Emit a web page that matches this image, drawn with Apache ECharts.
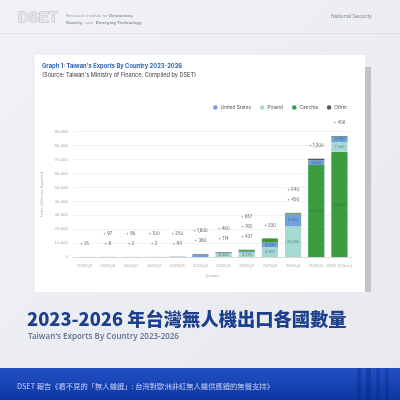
<!DOCTYPE html>
<html><head><meta charset="utf-8">
<script src="https://cdn.jsdelivr.net/npm/echarts@6/dist/echarts.min.js"></script>
<style>html,body{margin:0;padding:0;background:#eceef2}#c{width:400px;height:400px}</style>
</head><body><div id="c"></div>
<script>
const categories = ['2023Q3','2023Q4','2024Q1','2024Q2','2024Q3','2024Q4','2025Q1','2025Q2','2025Q3','2025Q4','2026Q1','2026 Q2(est.)'];
const usValues      = [35, 97, 90, 100, 250, 1800, 114, 765, 3500, 8621, 3400, 3780];
const polandValues  = [0, 0, 0, 0, 94, 0, 3000, 3176, 6957, 22000, 0, 7100];
const czechiaValues = [0, 0, 0, 0, 0, 0, 0, 857, 2500, 640, 66000, 75500];
const otherValues   = [0, 8, 3, 2, 0, 380, 460, 437, 330, 456, 1200, 456];
const yTicks = {min: 0, max: 90000, interval: 10000};
const insideMin = 2500;

const fmt = v => v.toLocaleString('en-US');
const czBase = czechiaValues.map((v,i)=> (v >= Math.max(usValues[i], polandValues[i], otherValues[i]) && v>0) ? v : 0);
const czTop = czechiaValues.map((v,i)=> czBase[i] ? 0 : v);
const zeros = categories.map(()=>0);

function insideLabel(color){
  return {show:true, position:'inside', fontSize:4, color:color,
    formatter: p => p.value >= insideMin ? fmt(p.value) : ''};
}
const annot = categories.map((c,i)=>{
  const list = [czTop[i], otherValues[i], usValues[i], polandValues[i], czBase[i]]
    .filter(v => v>0 && v<insideMin).sort((a,b)=>b-a);
  return list.map(v=>'+ '+fmt(v)).join('\n');
});

const chart = echarts.init(document.getElementById('c'), null, {renderer:'canvas'});
const option = {
  animation:false,
  graphic:[
    {type:'rect', z:0, shape:{x:0,y:0,width:400,height:400}, style:{fill:new echarts.graphic.LinearGradient(0,0,1,1,[{offset:0,color:'#f1f2f5'},{offset:1,color:'#e7e9ee'}])}},
    {type:'text', z:1, x:18, y:10, style:{text:'DSET', fontSize:15, fontWeight:900, fontFamily:'Liberation Sans', fill:'#e4e6ea', stroke:'#b3b7be', lineWidth:0.9}},
    {type:'text', z:1, x:66, y:12, style:{text:'{a|Research Institute for }{b|Democracy,}\n{b|Society,} {a|and} {b|Emerging Technology}', fontFamily:'Roboto', lineHeight:7,
      rich:{a:{fontSize:4.4, fill:'#a0a5ad'}, b:{fontSize:4.4, fontWeight:'bold', fill:'#8c9199'}}}},
    {type:'text', z:1, x:331, y:14, style:{text:'National Security', fontSize:5.4, fontFamily:'Roboto', fill:'#8d929b'}},
    {type:'rect', z:1, shape:{x:0,y:33,width:400,height:0.6}, style:{fill:'#d3d6db'}},
    {type:'rect', z:1, shape:{x:35,y:55,width:330,height:237}, style:{fill:'#ffffff'}},
    {type:'rect', z:1, shape:{x:365,y:67,width:6,height:225}, style:{fill:'#c3c3c3'}},
    {type:'text', z:1, x:42, y:63, style:{text:"Graph 1: Taiwan's Exports By Country 2023-2026", fontSize:5.8, fontWeight:'bold', fontFamily:'Inter', fill:'#2e62b5'}},
    {type:'text', z:1, x:42, y:72, style:{text:"(Source: Taiwan's Ministry of Finance, Compiled by DSET)", fontSize:5.6, fontFamily:'Inter', fill:'#3a3a3a'}},
    {type:'text', z:1, x:27, y:310, style:{text:'2023-2026 年台灣無人機出口各國數量', fontSize:18.3, fontWeight:900, fontFamily:'Noto Sans CJK TC', fill:'#1c3f8e'}},
    {type:'text', z:1, x:28, y:333, style:{text:"Taiwan's Exports By Country 2023-2026", fontSize:8, fontWeight:600, fontFamily:'Noto Sans', fill:'#6b7796'}},
    {type:'rect', z:1, shape:{x:0,y:368,width:400,height:32}, style:{fill:new echarts.graphic.LinearGradient(0,0,0,1,[{offset:0,color:'#2251c6'},{offset:1,color:'#0c37a3'}])}},
    {type:'rect', z:1, shape:{x:357,y:368,width:4,height:32}, style:{fill:'rgba(0,20,90,0.25)'}},
    {type:'rect', z:1, shape:{x:366,y:368,width:5,height:32}, style:{fill:'rgba(0,20,90,0.25)'}},
    {type:'rect', z:1, shape:{x:376,y:368,width:4,height:32}, style:{fill:'rgba(0,20,90,0.2)'}},
    {type:'rect', z:1, shape:{x:385,y:368,width:4,height:32}, style:{fill:'rgba(0,20,90,0.2)'}},
    {type:'text', z:1, x:17, y:383, style:{text:'DSET 報告《看不見的「無人機鏈」: 台灣對歐洲非紅無人機供應鏈的無聲支持》', fontSize:7.3, fontFamily:'Noto Sans CJK TC', fill:'#c6d2f0'}}
  ],
  legend:{data:['United States','Poland','Czechia','Other'], right:48, top:100, icon:'circle', itemWidth:4.5, itemHeight:4.5, itemGap:9,
    textStyle:{fontSize:4.8, color:'#555', fontFamily:'Inter', padding:[0,0,0,-2]}, z:5},
  grid:{left:73, right:49, top:131.7, bottom:143, z:3},
  xAxis:{type:'category', data:categories, z:3,
    name:'Quarter', nameLocation:'middle', nameGap:17, nameTextStyle:{fontSize:4.2, color:'#aaa'},
    axisLine:{lineStyle:{color:'#d8d8d8'}}, axisTick:{show:false},
    axisLabel:{fontSize:4.2, color:'#aaa', interval:0, margin:7}},
  yAxis:{type:'value', min:yTicks.min, max:yTicks.max, interval:yTicks.interval, z:3,
    name:'Units of Drones Exported', nameLocation:'middle', nameGap:29, nameRotate:90, nameTextStyle:{fontSize:4, color:'#aaa'},
    axisLabel:{fontSize:4.4, color:'#aaa', margin:5, formatter:v=>fmt(v)},
    splitLine:{lineStyle:{color:'#efefef', width:0.8}}},
  series:[
    {name:'Czechia', type:'bar', stack:'t', z:4, data:czBase, barWidth:'70%', itemStyle:{color:'#3c9c41'}, label:insideLabel('#2c7a30')},
    {name:'Poland', type:'bar', stack:'t', z:4, data:polandValues, itemStyle:{color:'#a6d9d4'}, label:insideLabel('#4f8580')},
    {name:'United States', type:'bar', stack:'t', z:4, data:usValues, itemStyle:{color:'#6fa3da'}, label:insideLabel('#3c6a9a')},
    {name:'Other', type:'bar', stack:'t', z:4, data:otherValues, itemStyle:{color:'#565a60'}, label:insideLabel('#ddd')},
    {name:'Czechia', type:'bar', stack:'t', z:4, data:czTop, itemStyle:{color:'#3c9c41'}, label:insideLabel('#2c7a30')},
    {name:'annot', type:'bar', stack:'t', z:4, data:zeros, silent:true, itemStyle:{color:'transparent'},
      label:{show:true, position:'top', distance:8, fontSize:4.2, lineHeight:10, color:'#555', fontFamily:'Inter', formatter:p=>annot[p.dataIndex]}}
  ]
};
chart.setOption(option);
</script></body></html>
